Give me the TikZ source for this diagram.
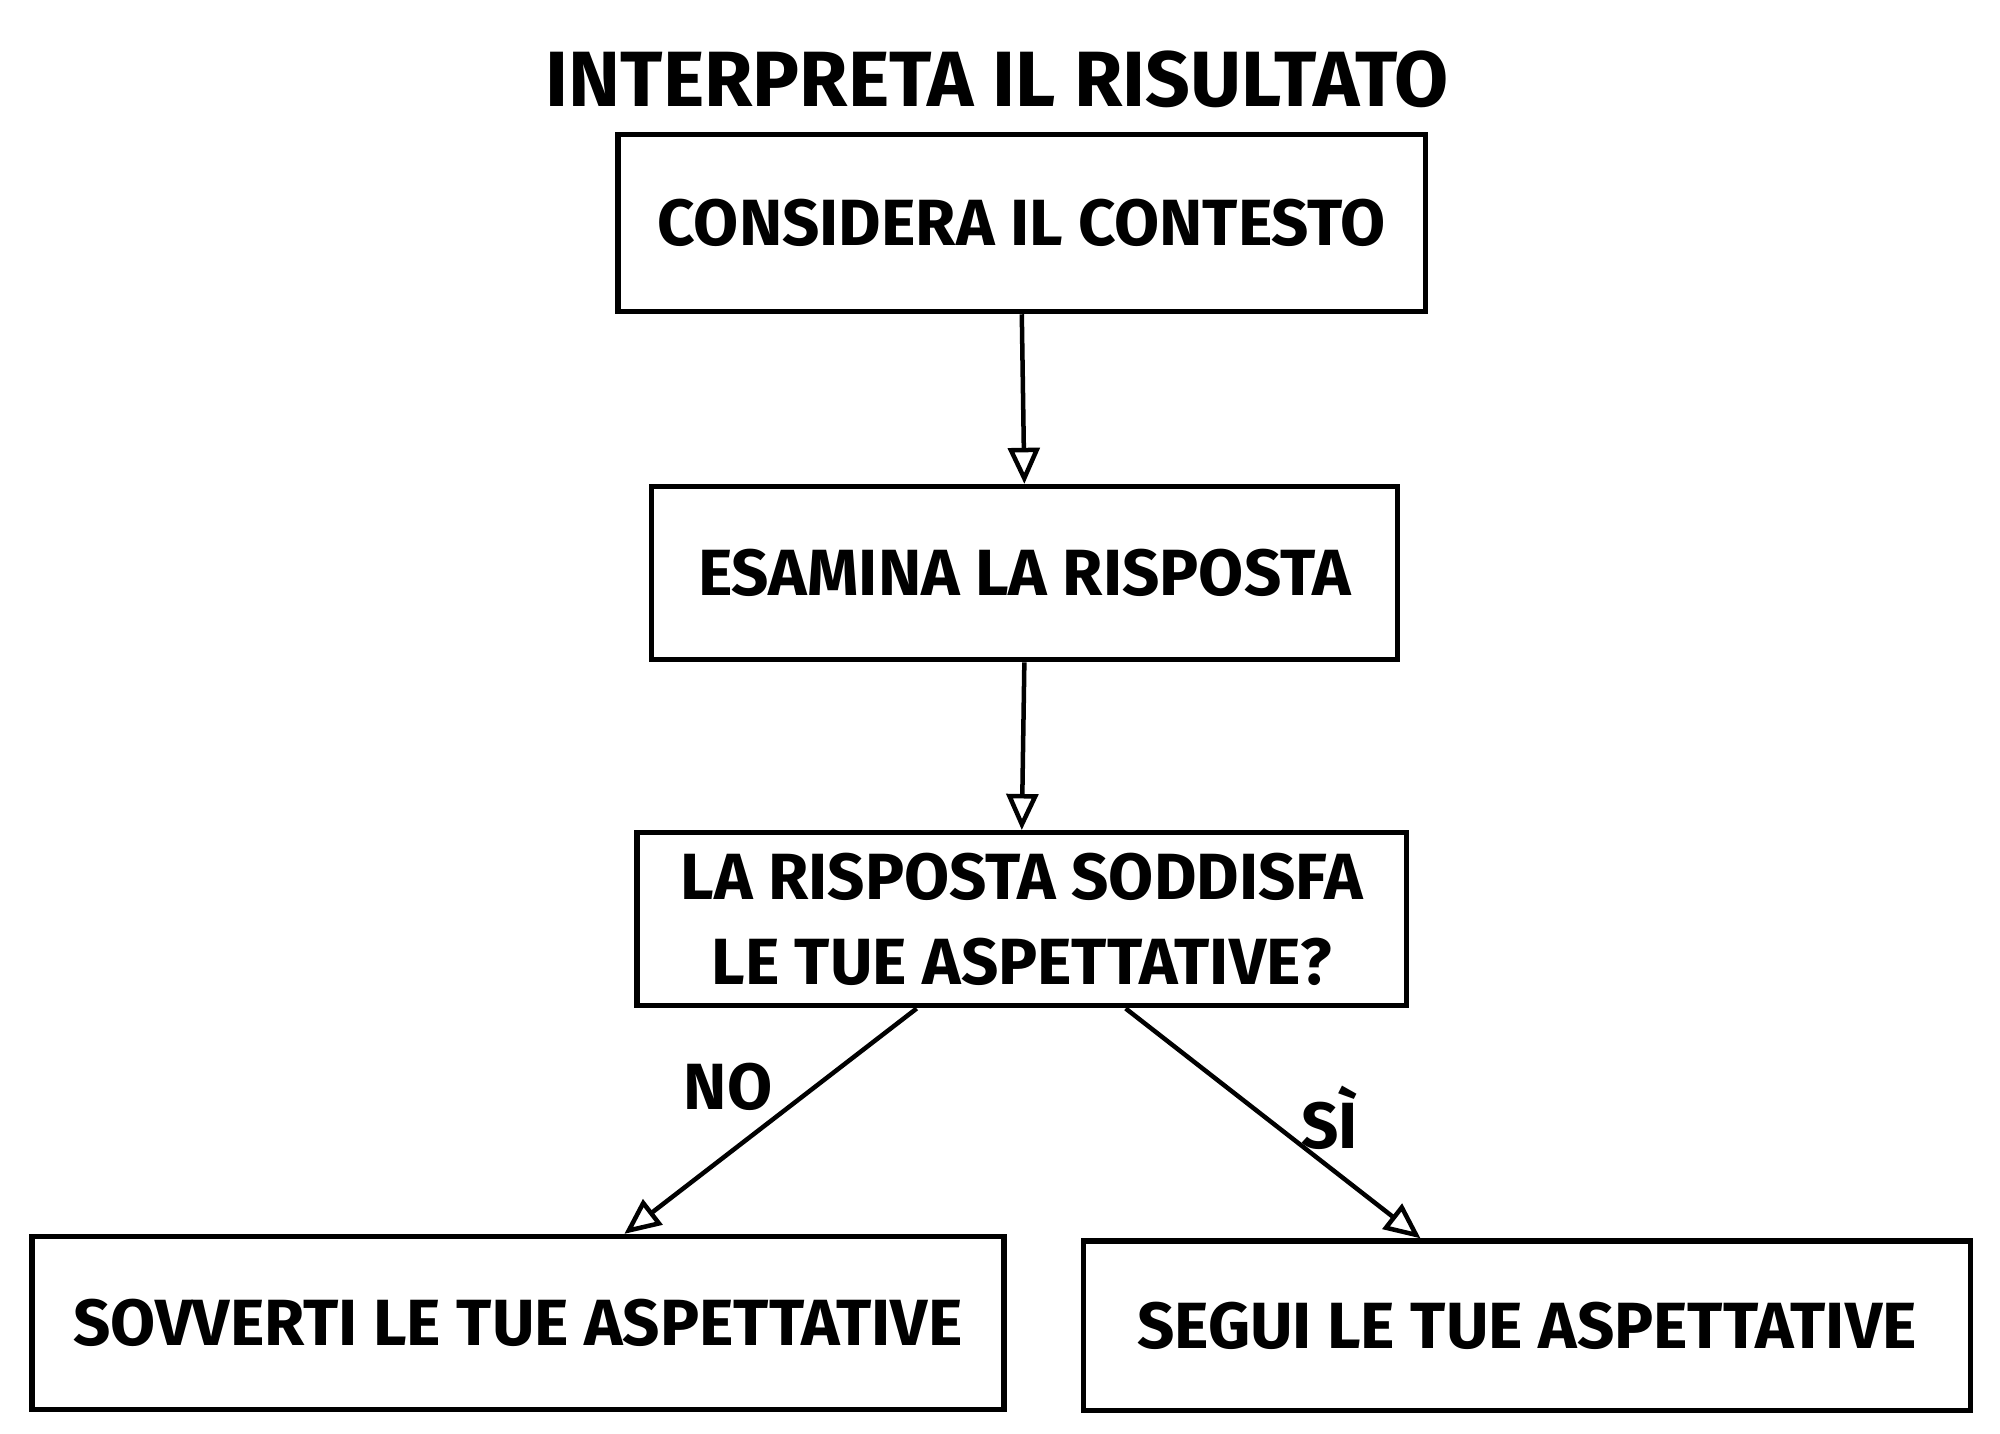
\documentclass[tikz,border=0pt]{standalone}
\usepackage{fontspec}
\setmainfont{Fira Sans}
\usetikzlibrary{arrows.meta}
\begin{document}
\begin{tikzpicture}[x=0.1mm, y=-0.1mm,
        every node/.style={font=\bfseries\fontsize{14.5}{19}\selectfont, align=center},
        stepbox/.style={draw, line width=1.2pt, inner sep=0pt, minimum height=13.5mm},
        link/.style={line width=1pt, -{Triangle[open, length=8pt, width=7pt]}}]

            \useasboundingbox (0, 0) rectangle (1560, 1118);

            \node (title) at (778, 62) [font=\bfseries\fontsize{17.4}{20}\selectfont] {INTERPRETA IL RISULTATO};

            \node (b1) at (797, 174) [stepbox, minimum width = 63mm, minimum height = 13.8mm] {CONSIDERA IL CONTESTO};
            \node (b2) at (799, 447) [stepbox, minimum width = 58.2mm] {ESAMINA LA RISPOSTA};
            \node (b3) at (797, 717) [stepbox, minimum width = 60mm] {LA RISPOSTA SODDISFA\\LE TUE ASPETTATIVE?};
            \node (b4) at (404, 1032) [stepbox, minimum width = 75.8mm] {SOVVERTI LE TUE ASPETTATIVE};
            \node (b5) at (1191, 1034) [stepbox, minimum width = 69.2mm, minimum height = 13.2mm] {SEGUI LE TUE ASPETTATIVE};

            \draw[link] (b1.south) -- (b2.north);
            \draw[link] (b2.south) -- (b3.north);
            \draw[link] ([xshift = -8.2mm]b3.south) -- ([xshift = 8.3mm]b4.north);
            \draw[link] ([xshift = 8.1mm]b3.south) -- ([xshift = -8.3mm]b5.north);

            \node (no) at (568, 848) {NO};
            \node (si) at (1037, 872) {SÌ};
        \end{tikzpicture}
\end{document}
